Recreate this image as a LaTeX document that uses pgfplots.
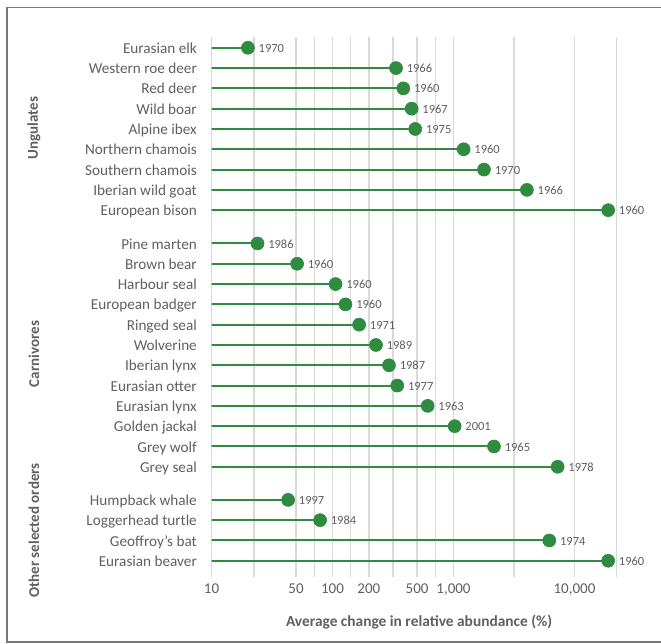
\documentclass[border=0pt]{standalone}
\usepackage{pgfplots}
\pgfplotsset{compat=1.18}
\usepackage{pgfplotstable}
\usepackage{fontspec}
\setmainfont{Carlito}
\definecolor{eeagreen}{RGB}{46,139,64}
\definecolor{txtgray}{RGB}{96,96,96}
\definecolor{gridgray}{RGB}{217,217,217}
\definecolor{framegray}{RGB}{120,120,120}

\pgfplotstableread{
pos val year
0 20 1970
1 335 1966
2 385 1960
3 451 1967
4 483 1975
5 1214 1960
6 1787 1970
7 4046 1966
8 19000 1960
9.64 24 1986
10.64 51 1960
11.64 106 1960
12.64 128 1960
13.64 166 1971
14.64 229 1989
15.64 293 1987
16.64 343 1977
17.64 612 1963
18.64 1023 2001
19.64 2161 1965
20.64 7262 1978
22.27 43 1997
23.27 79 1984
24.27 6194 1974
25.27 19000 1960
}\data

\begin{document}
\begin{tikzpicture}
\useasboundingbox (0,0) rectangle (661bp,-644bp);
\fill[white] (0,0) rectangle (661bp,-644bp);
\draw[framegray, line width=1.6bp] (661bp,-7.5bp) -- (7bp,-7.5bp) -- (7bp,-642bp) -- (661bp,-642bp);
\begin{axis}[
  at={(211.5bp,-577bp)}, anchor=south west,
  scale only axis,
  width=411.1bp, height=540bp,
  xmode=log,
  xmin=10, xmax=25000,
  ymin=-0.53, ymax=26.07,
  y dir=reverse,
  axis line style={draw=none},
  tick style={draw=none},
  major tick length=0pt, minor tick length=0pt,
  xtick={10,50,100,200,500,1000,10000},
  xticklabels={10,50,100,200,500,{1,000},{10,000}},
  minor xtick={22.4,70.7,141,316,707,3162,22360},
  xmajorgrids, xminorgrids,
  major grid style={gridgray, line width=1.3bp},
  minor grid style={gridgray, line width=1.3bp},
  log basis x=10,
  /pgf/number format/assume math mode=true,
  xticklabel style={font=\fontsize{15bp}{18bp}\selectfont, text=txtgray, anchor=base, inner sep=0pt, yshift=-16bp},
  ytick={0,1,2,3,4,5,6,7,8,9.64,10.64,11.64,12.64,13.64,14.64,15.64,16.64,17.64,18.64,19.64,20.64,22.27,23.27,24.27,25.27},
  yticklabels={Eurasian elk,Western roe deer,Red deer,Wild boar,Alpine ibex,Northern chamois,Southern chamois,Iberian wild goat,European bison,Pine marten,Brown bear,Harbour seal,European badger,Ringed seal,Wolverine,Iberian lynx,Eurasian otter,Eurasian lynx,Golden jackal,Grey wolf,Grey seal,Humpback whale,Loggerhead turtle,Geoffroy’s bat,Eurasian beaver},
  yticklabel style={font=\fontsize{15.2bp}{18bp}\selectfont, text=txtgray, anchor=base east, inner sep=0pt, xshift=-14.5bp, yshift=-5.6bp},
  xlabel={Average change in relative abundance (\%)},
  xlabel style={at={(axis description cs:0.505,-0.0833)}, anchor=center, font=\fontsize{15.4bp}{18bp}\selectfont\bfseries, text=txtgray},
  clip marker paths=false,
]
\addplot[xcomb, draw=eeagreen, line width=2bp,
  mark=*, mark size=6.5bp, mark options={fill=eeagreen, draw=eeagreen, line width=0.6bp},
  nodes near coords, point meta=explicit symbolic,
  every node near coord/.append style={anchor=base west, inner sep=0pt, xshift=10.5bp, yshift=-4.6bp, font=\fontsize{12.5bp}{15bp}\selectfont, text=txtgray},
] table[x=val, y=pos, meta=year] {\data};
\end{axis}
\begin{scope}[font=\fontsize{15bp}{18bp}\selectfont\bfseries, text=txtgray]
\node[rotate=90] at (34bp,-128bp) {Ungulates};
\node[rotate=90] at (34bp,-354bp) {Carnivores};
\node[rotate=90] at (34bp,-530.5bp) {Other selected orders};
\end{scope}
\end{tikzpicture}
\end{document}
